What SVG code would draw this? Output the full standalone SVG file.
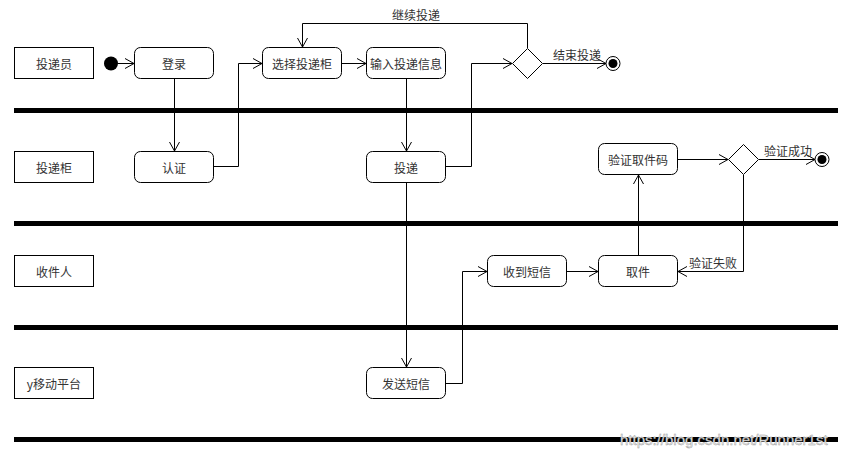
<svg xmlns="http://www.w3.org/2000/svg" width="849" height="454" viewBox="0 0 849 454">
<defs>
<marker id="arr" markerWidth="10" markerHeight="12" refX="9" refY="6" orient="auto" markerUnits="userSpaceOnUse">
<path d="M0,1 L9,6 L0,11" fill="none" stroke="#000" stroke-width="1"/>
</marker>
<style>
.lane{fill:#fff;stroke:#000;stroke-width:1}
.act{fill:#fff;stroke:#000;stroke-width:1}
.bar{fill:#000}
.t{font-family:"Noto Sans CJK SC","Liberation Sans",sans-serif;font-size:12px;fill:#333;text-anchor:middle;dominant-baseline:central}
.lbl{font-family:"Noto Sans CJK SC","Liberation Sans",sans-serif;font-size:12px;fill:#333}
.c{fill:none;stroke:#000;stroke-width:1;marker-end:url(#arr)}
.l{fill:none;stroke:#000;stroke-width:1}
</style>
</defs>
<rect width="849" height="454" fill="#fff"/>
<g id="bars">
<rect class="bar" x="14" y="108" width="824" height="5"/>
<rect class="bar" x="14" y="221" width="824" height="5"/>
<rect class="bar" x="14" y="325" width="824" height="5"/>
<rect class="bar" x="14" y="437" width="824" height="5"/>
</g>
<g id="lane1"><rect class="lane" x="14.5" y="47.5" width="79" height="31"/><text class="t" x="54" y="63">投递员</text></g>
<g id="lane2"><rect class="lane" x="14.5" y="151.5" width="79" height="31"/><text class="t" x="54" y="167">投递柜</text></g>
<g id="lane3"><rect class="lane" x="14.5" y="255.5" width="79" height="31"/><text class="t" x="54" y="271">收件人</text></g>
<g id="lane4"><rect class="lane" x="14.5" y="367.5" width="79" height="31"/><text class="t" x="54" y="383">y移动平台</text></g>

<g id="start"><circle cx="111" cy="63.5" r="7" fill="#000"/></g>
<g id="login"><rect class="act" x="134.5" y="47.5" width="79" height="31" rx="6"/><text class="t" x="174" y="63">登录</text></g>
<g id="select"><rect class="act" x="262.5" y="47.5" width="79" height="31" rx="6"/><text class="t" x="302" y="63">选择投递柜</text></g>
<g id="input"><rect class="act" x="366.5" y="47.5" width="79" height="31" rx="6"/><text class="t" x="406" y="63">输入投递信息</text></g>
<g id="dec1"><path d="M527.5,48.5 L542.5,63.5 L527.5,78.5 L512.5,63.5 Z" fill="#fff" stroke="#000"/></g>
<g id="end1"><circle cx="613" cy="63.5" r="7" fill="#fff" stroke="#000"/><circle cx="613" cy="63.5" r="4.5" fill="#000"/></g>
<g id="auth"><rect class="act" x="134.5" y="151.5" width="79" height="31" rx="6"/><text class="t" x="174" y="167">认证</text></g>
<g id="deliver"><rect class="act" x="366.5" y="151.5" width="79" height="31" rx="6"/><text class="t" x="406" y="167">投递</text></g>
<g id="verify"><rect class="act" x="598.5" y="143.5" width="79" height="31" rx="6"/><text class="t" x="638" y="159">验证取件码</text></g>
<g id="dec2"><path d="M743.5,144.5 L758.5,159.5 L743.5,174.5 L728.5,159.5 Z" fill="#fff" stroke="#000"/></g>
<g id="end2"><circle cx="822" cy="159.5" r="7" fill="#fff" stroke="#000"/><circle cx="822" cy="159.5" r="4.5" fill="#000"/></g>
<g id="recv"><rect class="act" x="487.5" y="255.5" width="79" height="31" rx="6"/><text class="t" x="527" y="271">收到短信</text></g>
<g id="pick"><rect class="act" x="598.5" y="255.5" width="79" height="31" rx="6"/><text class="t" x="638" y="271">取件</text></g>
<g id="sms"><rect class="act" x="366.5" y="367.5" width="79" height="31" rx="6"/><text class="t" x="406" y="383">发送短信</text></g>

<g id="connectors">
<path class="c" d="M118,63.5 H134"/>
<path class="c" d="M174.5,79 V151"/>
<path class="c" d="M214,166.5 H238.5 V63.5 H262"/>
<path class="c" d="M342,63.5 H366"/>
<path class="c" d="M406.5,79 V151"/>
<path class="c" d="M446,166.5 H471.5 V63.5 H512"/>
<path class="c" d="M527.5,48 V23.5 H302.5 V47"/>
<path class="c" d="M543,63.5 H606"/>
<path class="c" d="M406.5,183 V367"/>
<path class="c" d="M446,383.5 H462.5 V271.5 H487"/>
<path class="c" d="M567,271.5 H598"/>
<path class="c" d="M638.5,255 V175"/>
<path class="c" d="M678,159.5 H728"/>
<path class="c" d="M759,159.5 H815"/>
<path class="c" d="M743.5,175 V271.5 H678"/>
<text class="lbl" x="392" y="20">继续投递</text>
<text class="lbl" x="553" y="60">结束投递</text>
<text class="lbl" x="764" y="156">验证成功</text>
<text class="lbl" x="689" y="268">验证失败</text>
</g>
<text x="620" y="445" font-family="Liberation Sans, Arial, sans-serif" font-size="15" fill="#eee" stroke="#999" stroke-width="0.4">https://blog.csdn.net/Runner1st</text>
</svg>
